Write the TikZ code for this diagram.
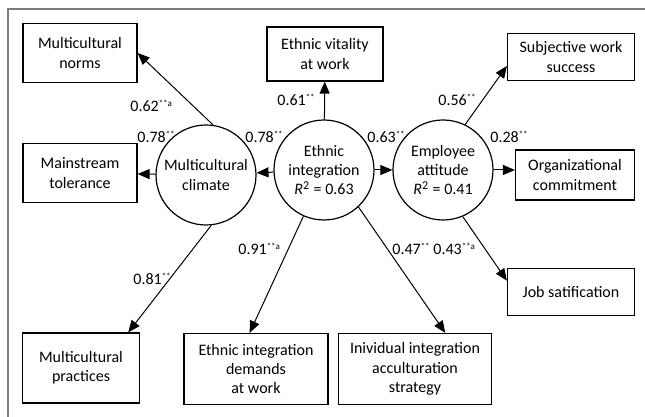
\documentclass[tikz,border=0pt]{standalone}
\usepackage{fontspec}
\setmainfont{Carlito}
\usepackage{xcolor}
\usetikzlibrary{arrows.meta}
\definecolor{framegray}{RGB}{125,125,125}
\newcommand{\sigmark}[1]{\textsuperscript{\fontsize{4.5}{4.5}\selectfont#1}}

\begin{document}
\begin{tikzpicture}[
  x=0.5pt, y=-0.5pt,
  font=\fontsize{8}{9.6}\selectfont,
  vbox/.style={draw, line width=0.6pt, align=center, inner sep=1pt,
    minimum width=57pt, minimum height=29.5pt},
  lat/.style={draw, circle, line width=0.6pt, align=center,
    minimum size=50pt, inner sep=0pt},
  arr/.style={-{Triangle[length=6pt,width=5pt]}, line width=0.5pt},
  coef/.style={inner sep=0pt, anchor=west}
]
\useasboundingbox (0,0) rectangle (645,417);

% frame
\draw[framegray, line width=1pt] (8,417) -- (8,9) -- (645,9);

% latent variables
\node[lat] (clim) at (206,175) {Multicultural\\climate};
\node[lat] (integ) at (324,170) {Ethnic\\integration\\\textit{R}\textsuperscript{2} = 0.63};
\node[lat] (att) at (443,170) {Employee\\attitude\\\textit{R}\textsuperscript{2} = 0.41};

% indicators
\node[vbox] (norms) at (80,53) {Multicultural\\norms};
\node[vbox] (toler) at (80,173) {Mainstream\\tolerance};
\node[vbox, minimum width=58.5pt, minimum height=35pt] (prac) at (81,368) {Multicultural\\practices};
\node[vbox, minimum width=58pt, minimum height=27pt] (vital) at (325,54) {Ethnic vitality\\at work};
\node[vbox, minimum width=72pt, minimum height=35.5pt] (dem) at (256,369) {Ethnic integration\\demands\\at work};
\node[vbox, minimum width=76.5pt, minimum height=35.5pt] (indiv) at (415,369) {Inividual integration\\acculturation\\strategy};
\node[vbox, minimum width=63.5pt, minimum height=23.5pt] (subj) at (571,57) {Subjective work\\success};
\node[vbox, minimum width=59.5pt, minimum height=25pt] (org) at (575,175) {Organizational\\commitment};
\node[vbox, minimum width=63.5pt, minimum height=23.5pt] (job) at (571,292) {Job satification};

% paths
\draw[arr] (clim.82) -- (norms.east);
\draw[arr] (clim) -- (toler);
\draw[arr] (clim.-84) -- (prac.37);
\draw[arr] (integ) -- (vital);
\draw[arr] (integ) -- (clim);
\draw[arr] (integ) -- (att);
\draw[arr] (integ.-114) -- (dem.100);
\draw[arr] (integ.-47) -- (indiv.50);
\draw[arr] (att.64) -- (subj.188);
\draw[arr] (att.west -| att.east) -- (org.west |- att.east);
\draw[arr] (att.-67) -- (job.170);

% coefficients
\node[coef] (c1) at (130,106) {0.62\sigmark{**a}};
\node[coef] (c2) at (137,137) {0.78\sigmark{**}};
\node[coef] (c3) at (245,137) {0.78\sigmark{**}};
\node[coef] (c4) at (277,100) {0.61\sigmark{**}};
\node[coef] (c5) at (367,137) {0.63\sigmark{**}};
\node[coef] (c6) at (438,100) {0.56\sigmark{**}};
\node[coef] (c7) at (490,137) {0.28\sigmark{**}};
\node[coef] (c8) at (133,279) {0.81\sigmark{**}};
\node[coef] (c9) at (238,249) {0.91\sigmark{**a}};
\node[coef] (c10) at (392,249) {0.47\sigmark{**}};
\node[coef] (c11) at (433,249) {0.43\sigmark{**a}};

\end{tikzpicture}
\end{document}
